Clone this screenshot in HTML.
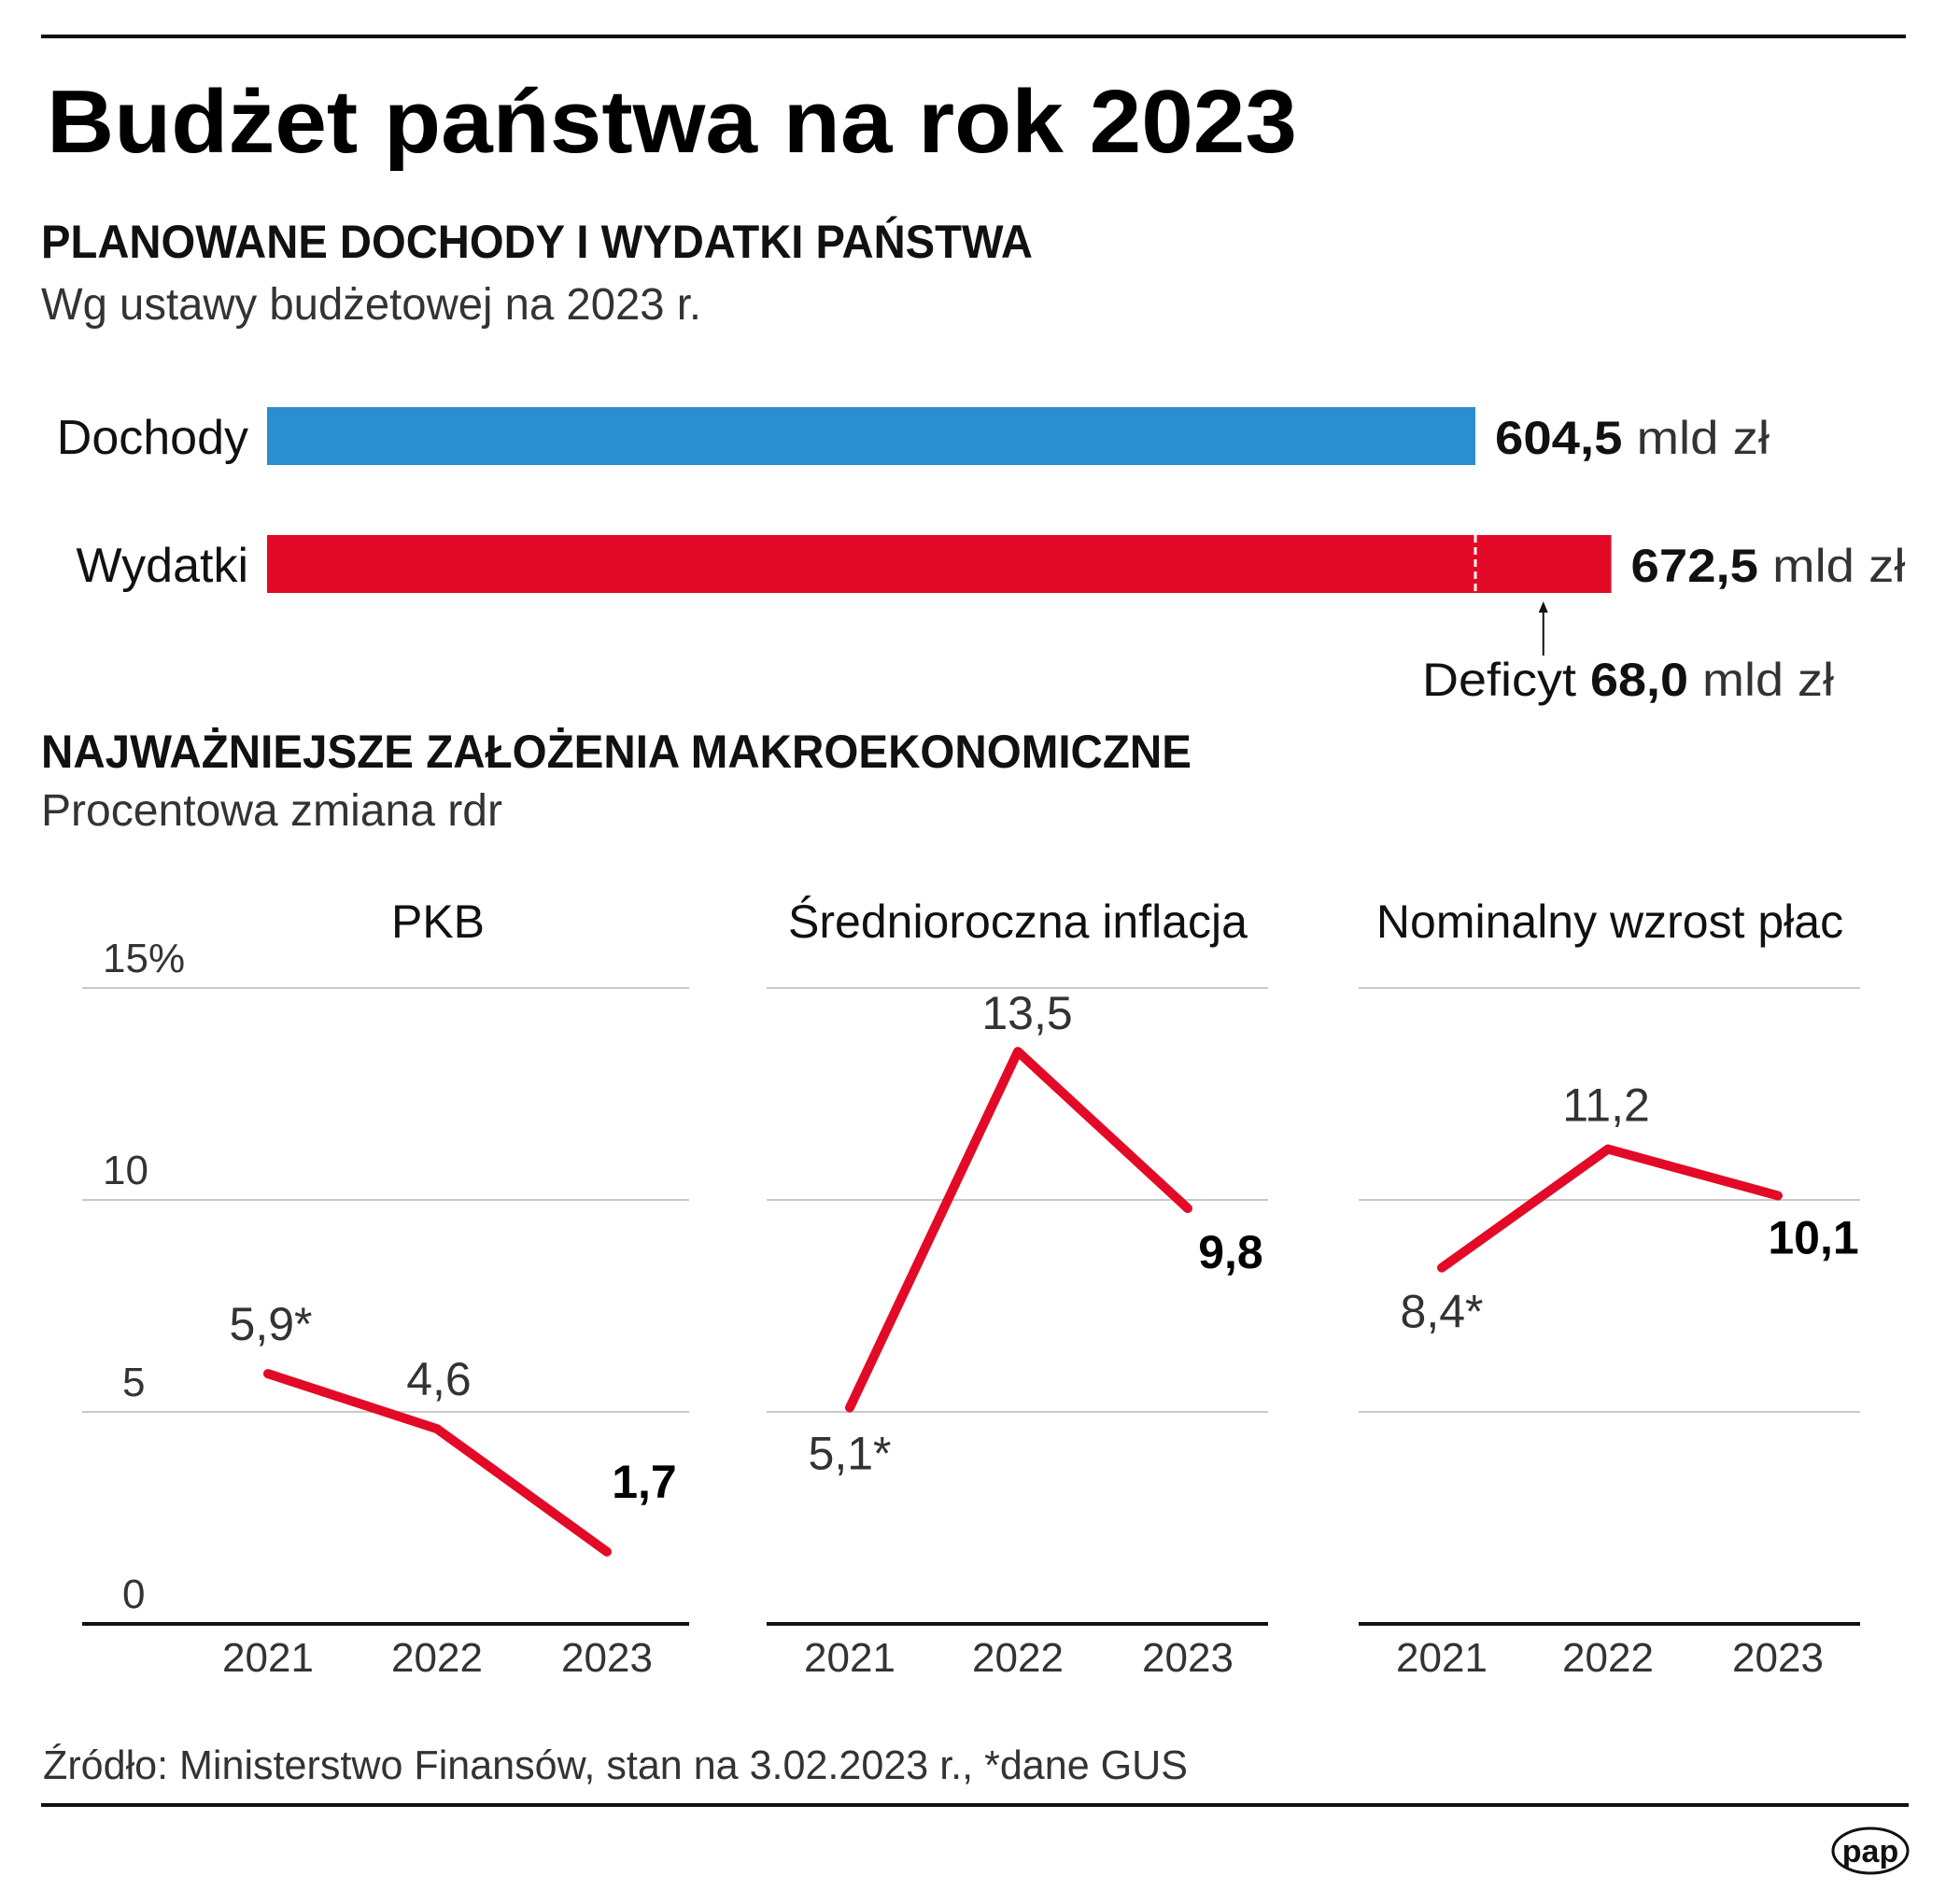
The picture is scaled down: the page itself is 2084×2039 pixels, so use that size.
<!DOCTYPE html>
<html><head><meta charset="utf-8">
<style>
html,body{margin:0;padding:0;background:#fff;}
svg{display:block;}
text{font-family:"Liberation Sans",sans-serif;}
</style></head>
<body>
<svg id="chart" width="2084" height="2039" viewBox="0 0 2084 2039" xmlns="http://www.w3.org/2000/svg">
<rect width="2084" height="2039" fill="#fff"/>
<rect x="44" y="37" width="1997" height="4" fill="#111"/>
<text x="50" y="163" font-size="96" font-weight="bold" fill="#000" textLength="1339" lengthAdjust="spacingAndGlyphs">Budżet państwa na rok 2023</text>
<text x="44" y="276" font-size="50" font-weight="bold" fill="#111" textLength="1062" lengthAdjust="spacingAndGlyphs">PLANOWANE DOCHODY I WYDATKI PAŃSTWA</text>
<text x="44" y="342" font-size="48" fill="#333" textLength="707" lengthAdjust="spacingAndGlyphs">Wg ustawy budżetowej na 2023 r.</text>

<g id="bars"></g>

<text x="44" y="822" font-size="50" font-weight="bold" fill="#111" textLength="1232" lengthAdjust="spacingAndGlyphs">NAJWAŻNIEJSZE ZAŁOŻENIA MAKROEKONOMICZNE</text>
<text x="44" y="884" font-size="48" fill="#333" textLength="494" lengthAdjust="spacingAndGlyphs">Procentowa zmiana rdr</text>

<g id="lines"></g>

<text x="46" y="1905" font-size="44" fill="#333" textLength="1226" lengthAdjust="spacingAndGlyphs">Źródło: Ministerstwo Finansów, stan na 3.02.2023 r., *dane GUS</text>
<rect x="44" y="1931" width="2000" height="4" fill="#111"/>
<g>
<ellipse cx="2003" cy="1982" rx="40" ry="24" fill="#fff" stroke="#111" stroke-width="3"/>
<text x="2003" y="1994" font-size="34" font-weight="bold" text-anchor="middle" fill="#111">pap</text>
</g>
</svg>
<script>
const NS = 'http://www.w3.org/2000/svg';
// Bar chart data
const barCategories = ['Dochody', 'Wydatki'];
const barValues = [604.5, 672.5];
const barLabels = ['604,5', '672,5'];
const deficitValue = 68.0;
const deficitLabel = '68,0';

// Line chart data
const years = ['2021', '2022', '2023'];
const panelTitles = ['PKB', 'Średnioroczna inflacja', 'Nominalny wzrost płac'];
const pkbValues = [5.9, 4.6, 1.7];
const inflationValues = [5.1, 13.5, 9.8];
const wageValues = [8.4, 11.2, 10.1];
const pkbLabels = ['5,9*', '4,6', '1,7'];
const inflationLabels = ['5,1*', '13,5', '9,8'];
const wageLabels = ['8,4*', '11,2', '10,1'];
const yTicks = [0, 5, 10, 15];
const yTickLabels = ['0', '5', '10', '15%'];

function mk(tag, attrs, parent, txt) {
  const e = document.createElementNS(NS, tag);
  for (const k in attrs) e.setAttribute(k, attrs[k]);
  if (txt !== undefined) e.textContent = txt;
  parent.appendChild(e);
  return e;
}

// ---- bars ----
const bars = document.getElementById('bars');
const bx0 = 286, bScale = (1580 - 286) / 604.5;
const bxs = v => bx0 + v * bScale;
const barTop = [436, 573], barH = 62;
const barColors = ['#2a8ecf', '#e30a27'];
barCategories.forEach((c, i) => {
  const lab = mk('text', {x: 266, y: barTop[i] + 50, 'font-size': 52, 'text-anchor': 'end', fill: '#111'}, bars, c);
  
  
  const r = mk('rect', {x: bx0, y: barTop[i], width: bxs(barValues[i]) - bx0, height: barH, fill: barColors[i]}, bars);
  
  
  const t = mk('text', {x: bxs(barValues[i]) + 21, y: barTop[i] + 50, 'font-size': 50, fill: '#111', textLength: 294, lengthAdjust: 'spacingAndGlyphs'}, bars);
  
  
  mk('tspan', {'font-weight': 'bold'}, t, barLabels[i]);
  mk('tspan', {fill: '#333'}, t, ' mld zł');
});
const dx = bxs(barValues[1] - deficitValue);
const dl = mk('line', {x1: dx, y1: barTop[1], x2: dx, y2: barTop[1] + barH, stroke: '#fff', 'stroke-width': 3, 'stroke-dasharray': '8,5'}, bars);


const ax = (dx + bxs(barValues[1])) / 2;
const arr = mk('g', {}, bars);


mk('line', {x1: ax, y1: 654, x2: ax, y2: 702, stroke: '#111', 'stroke-width': 2}, arr);
mk('path', {d: `M${ax-5},${656} L${ax},${644} L${ax+5},${656} Z`, fill: '#111'}, arr);
const dt = mk('text', {x: 1523, y: 745, 'font-size': 50, fill: '#111', textLength: 441, lengthAdjust: 'spacingAndGlyphs'}, bars);


mk('tspan', {}, dt, 'Deficyt ');
mk('tspan', {'font-weight': 'bold'}, dt, deficitLabel);
mk('tspan', {fill: '#333'}, dt, ' mld zł');

// ---- line panels ----
const lines = document.getElementById('lines');
const y0 = 1739, yPer = (1739 - 1058) / 15;
const ys = v => y0 - v * yPer;
const panels = [
  {x0: 88, x1: 738, xs: [287, 468, 650], vals: pkbValues, labs: pkbLabels, tc: 469, ticks: true,
   lpos: [[290, -36], [470, -36], [690, -58]], slug: 'pkb'},
  {x0: 821, x1: 1358, xs: [910, 1090, 1272], vals: inflationValues, labs: inflationLabels, tc: 1090, ticks: false,
   lpos: [[910, 66], [1100, -24], [1318, 64]], slug: 'inflation'},
  {x0: 1455, x1: 1992, xs: [1544, 1722, 1904], vals: wageValues, labs: wageLabels, tc: 1724, ticks: false,
   lpos: [[1544, 64], [1720, -30], [1942, 62]], slug: 'wages'}
];
panels.forEach((p, pi) => {
  const g = mk('g', {}, lines);
  
  
  const tt = mk('text', {x: p.tc, y: 1004, 'font-size': 50, 'text-anchor': 'middle', fill: '#111'}, g, panelTitles[pi]);
  
  
  yTicks.forEach((t, ti) => {
    if (t > 0) {
      const gl = mk('line', {x1: p.x0, x2: p.x1, y1: ys(t), y2: ys(t), stroke: '#c8c8c8', 'stroke-width': 2}, g);
      
      
    }
    if (p.ticks) {
      const tl = mk('text', {x: 110, y: ys(t) - 17, 'font-size': 44, fill: '#333'}, g, yTickLabels[ti]);
      if (t < 10) tl.setAttribute('x', 131);
      
      
    }
  });
  const axl = mk('line', {x1: p.x0, x2: p.x1, y1: y0, y2: y0, stroke: '#111', 'stroke-width': 4}, g);
  
  
  years.forEach((yr, i) => {
    const yl = mk('text', {x: p.xs[i], y: 1790, 'font-size': 44, 'text-anchor': 'middle', fill: '#333'}, g, yr);
    
    
  });
  const pts = p.vals.map((v, i) => p.xs[i] + ',' + ys(v)).join(' ');
  const pl = mk('polyline', {points: pts, fill: 'none', stroke: '#e30a27', 'stroke-width': 10, 'stroke-linecap': 'round', 'stroke-linejoin': 'round'}, g);
  
  
  p.vals.forEach((v, i) => {
    const bold = i === 2;
    const vl = mk('text', {x: p.lpos[i][0], y: ys(v) + p.lpos[i][1], 'font-size': 50, 'text-anchor': 'middle',
      fill: bold ? '#000' : '#333', 'font-weight': bold ? 'bold' : 'normal'}, g, p.labs[i]);
    
    
  });
});
</script>
</body></html>
